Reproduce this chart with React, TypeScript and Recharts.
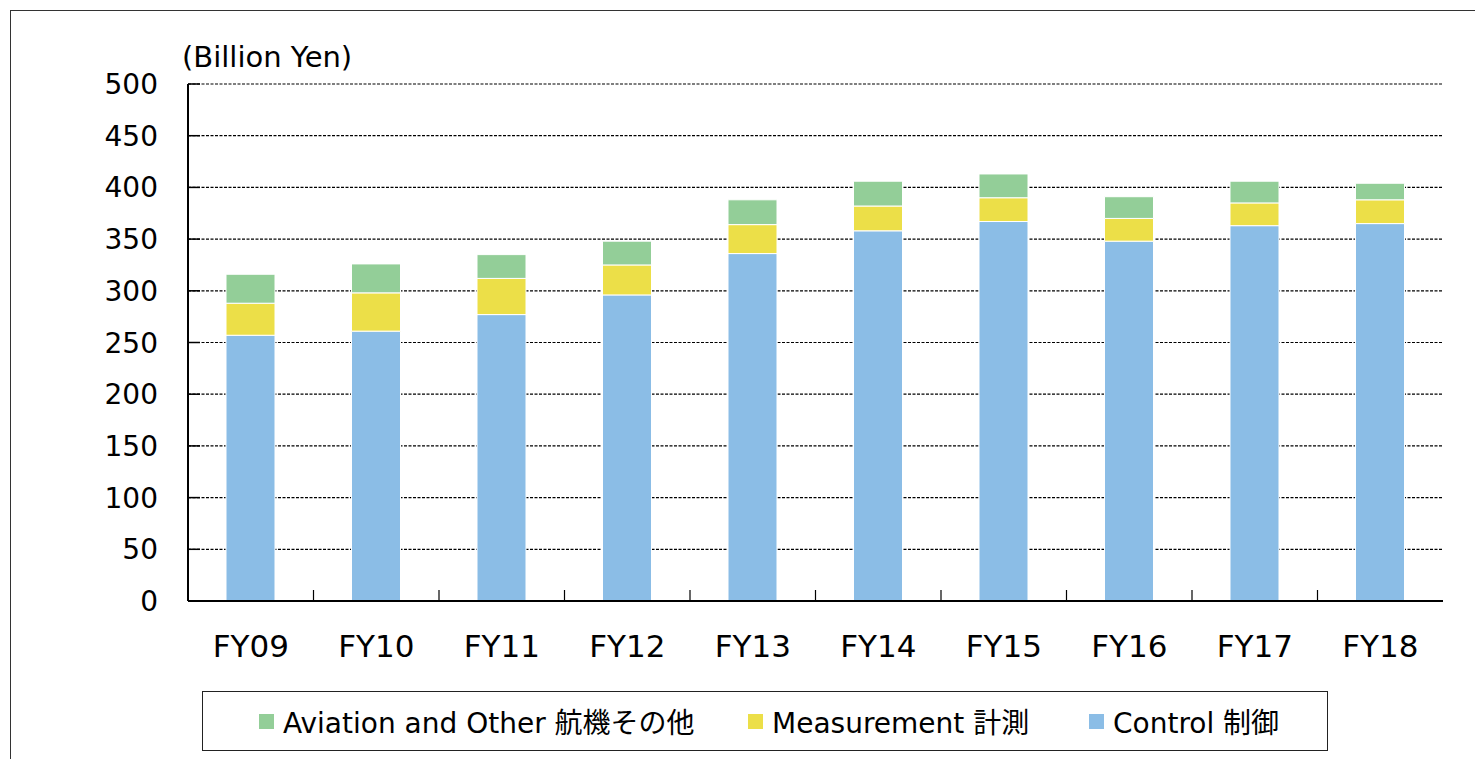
import { BarChart, Bar, XAxis, YAxis, CartesianGrid } from 'recharts'

const years = ['FY09', 'FY10', 'FY11', 'FY12', 'FY13', 'FY14', 'FY15', 'FY16', 'FY17', 'FY18']
const control = [257, 261, 277, 296, 336, 358, 367, 348, 363, 365]
const measurement = [31, 37, 35, 29, 28, 24, 23, 22, 22, 23]
const aviation = [28, 28, 23, 23, 24, 24, 23, 21, 21, 16]
const yTicks = [0, 50, 100, 150, 200, 250, 300, 350, 400, 450, 500]

const legendItems = [
    { label: 'Aviation and Other 航機その他', color: '#93ce98', left: 56 },
    { label: 'Measurement 計測', color: '#ecdf48', left: 545 },
    { label: 'Control 制御', color: '#8bbde6', left: 886 },
]

const data = years.map((y, i) => ({
    year: y,
    control: control[i],
    measurement: measurement[i],
    aviation: aviation[i],
}))

const FONT = '"DejaVu Sans", Verdana, "Noto Sans CJK JP", sans-serif'

function XTick(props: any) {
    const { x, y, payload, index, width, visibleTicksCount } = props
    const band = width && visibleTicksCount ? width / visibleTicksCount : 125.5
    const axisY = y - 8
    return (
        <g>
            {index < years.length - 1 && (
                <line x1={x + band / 2} x2={x + band / 2} y1={axisY} y2={axisY - 11} stroke="#000" strokeWidth={1.2} />
            )}
            <text x={x} y={657} textAnchor="middle" fontSize={31} fill="#000" fontFamily={FONT}>
                {payload.value}
            </text>
        </g>
    )
}

function YTick(props: any) {
    const { x, y, payload } = props
    const axisX = x + 30
    return (
        <g>
            <line x1={axisX} x2={axisX + 12} y1={y} y2={y} stroke="#000" strokeWidth={1.5} />
            <text x={x} y={y} dy={10} textAnchor="end" fontSize={28} fill="#000" fontFamily={FONT}>
                {payload.value}
            </text>
        </g>
    )
}

export default function App() {
    return (
        <div style={{
            position: 'absolute', left: 0, top: 0, width: 1475, height: 759,
            overflow: 'hidden', background: '#fff', fontFamily: FONT,
        }}>
            {/* outer frame, runs off the right and bottom edges */}
            <div style={{
                position: 'absolute', left: 10, top: 10, width: 1600, height: 900,
                border: '1px solid #333',
            }} />

            <div style={{
                position: 'absolute', left: 182, top: 40, fontSize: 29, color: '#000', whiteSpace: 'nowrap',
            }}>
                (Billion Yen)
            </div>

            <div style={{ position: 'absolute', left: 0, top: 0 }}>
                <BarChart
                    width={1475}
                    height={759}
                    data={data}
                    margin={{ top: 84, right: 32, bottom: 98, left: 0 }}
                    barSize={49}
                >
                    <CartesianGrid vertical={false} stroke="#000" strokeWidth={1.2} strokeDasharray="3 1.5" yAxisId="left" />
                    <XAxis
                        dataKey="year"
                        height={60}
                        interval={0}
                        tickLine={false}
                        tickSize={0}
                        tickMargin={8}
                        axisLine={{ stroke: '#000', strokeWidth: 2 }}
                        tick={<XTick />}
                    />
                    <YAxis
                        yAxisId="left"
                        width={188}
                        domain={[0, 500]}
                        ticks={yTicks}
                        interval={0}
                        tickLine={false}
                        tickSize={0}
                        tickMargin={30}
                        axisLine={{ stroke: '#000', strokeWidth: 2 }}
                        tick={<YTick />}
                    />
                    <YAxis
                        yAxisId="right"
                        orientation="right"
                        width={0}
                        domain={[0, 500]}
                        tick={false}
                        tickLine={false}
                        axisLine={{ stroke: '#555', strokeWidth: 2 }}
                    />
                    <Bar yAxisId="left" dataKey="control" stackId="a" fill="#8bbde6" stroke="#fff" strokeWidth={1} isAnimationActive={false} />
                    <Bar yAxisId="left" dataKey="measurement" stackId="a" fill="#ecdf48" stroke="#fff" strokeWidth={1} isAnimationActive={false} />
                    <Bar yAxisId="left" dataKey="aviation" stackId="a" fill="#93ce98" stroke="#fff" strokeWidth={1} isAnimationActive={false} />
                </BarChart>
            </div>

            {/* legend box */}
            <div style={{
                position: 'absolute', left: 202, top: 691, width: 1124, height: 58,
                border: '1px solid #222', background: '#fff',
            }}>
                {legendItems.map((l, i) => (
                    <div key={i} style={{
                        position: 'absolute', left: l.left, top: 0, height: 58,
                        display: 'flex', alignItems: 'center', whiteSpace: 'nowrap',
                    }}>
                        <div style={{ width: 15, height: 15, background: l.color, marginRight: 9 }} />
                        <span style={{ fontSize: 28, color: '#000' }}>{l.label}</span>
                    </div>
                ))}
            </div>
        </div>
    )
}
